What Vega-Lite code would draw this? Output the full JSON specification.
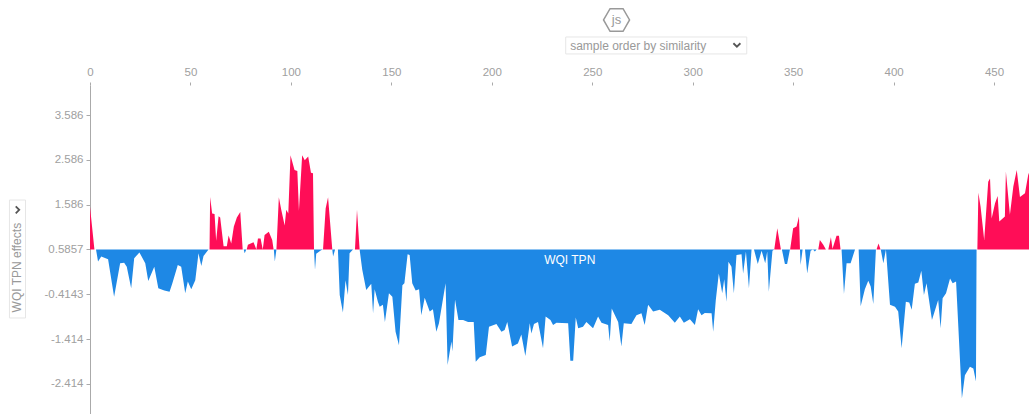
{"$schema":"https://vega.github.io/schema/vega-lite/v6.json","width":939,"height":329,"autosize":{"type":"none"},"padding":{"left":90,"top":85,"right":0,"bottom":0},"background":"white","config":{"view":{"stroke":null},"font":"Liberation Sans"},
"datasets":{
"positive":[{"s":0,"e":1.54},{"s":2.2,"e":0.5857},{"s":59.5,"e":0.5857},{"s":59.8,"e":1.76},{"s":60.8,"e":1.39},{"s":62,"e":1.38},{"s":62.8,"e":0.78},{"s":64,"e":1.33},{"s":64.8,"e":1.3},{"s":66.5,"e":0.66},{"s":68.1,"e":0.66},{"s":69,"e":0.9},{"s":70.3,"e":0.72},{"s":71.6,"e":1.1},{"s":73.1,"e":1.3},{"s":74.8,"e":1.42},{"s":76,"e":0.5857},{"s":78,"e":0.5857},{"s":78.6,"e":0.69},{"s":81.4,"e":0.75},{"s":82.8,"e":0.5857},{"s":83.6,"e":0.83},{"s":84.9,"e":0.83},{"s":86,"e":0.5857},{"s":86.9,"e":0.91},{"s":89,"e":0.98},{"s":90.7,"e":0.8},{"s":91.4,"e":0.5857},{"s":92.8,"e":0.5857},{"s":94,"e":1.75},{"s":95.2,"e":1.47},{"s":96.9,"e":1.12},{"s":97.7,"e":1.47},{"s":98.7,"e":1.39},{"s":99.8,"e":2.69},{"s":101.8,"e":2.36},{"s":103.2,"e":2.34},{"s":104,"e":1.45},{"s":105.6,"e":2.69},{"s":106.9,"e":2.58},{"s":108.6,"e":2.66},{"s":110,"e":2.3},{"s":111,"e":2.29},{"s":111.5,"e":0.5857},{"s":116,"e":0.5857},{"s":117.3,"e":1.5},{"s":118.5,"e":1.75},{"s":120.6,"e":0.5857},{"s":131.9,"e":0.5857},{"s":132.9,"e":1.47},{"s":134.2,"e":0.5857},{"s":340.6,"e":0.5857},{"s":342.1,"e":1.06},{"s":343.9,"e":0.5857},{"s":348.5,"e":0.5857},{"s":350,"e":1.06},{"s":351.7,"e":1.1},{"s":352.9,"e":1.32},{"s":353.4,"e":0.5857},{"s":362.5,"e":0.5857},{"s":363.3,"e":0.8},{"s":365,"e":0.69},{"s":366.3,"e":0.5857},{"s":367.5,"e":0.5857},{"s":368.8,"e":0.86},{"s":369.6,"e":0.6},{"s":371.6,"e":0.89},{"s":372.8,"e":0.89},{"s":373.6,"e":0.5857},{"s":391.5,"e":0.5857},{"s":392.5,"e":0.72},{"s":393.5,"e":0.5857},{"s":441.7,"e":0.5857},{"s":442.2,"e":1.85},{"s":443.3,"e":1.54},{"s":445.1,"e":0.8},{"s":447.1,"e":2.1},{"s":448,"e":2.17},{"s":448.8,"e":1.28},{"s":450.5,"e":1.62},{"s":451.8,"e":1.78},{"s":452.6,"e":1.21},{"s":454.3,"e":1.28},{"s":455.4,"e":1.32},{"s":455.9,"e":2.32},{"s":457.9,"e":1.36},{"s":459.6,"e":1.99},{"s":461.3,"e":2.36},{"s":462.9,"e":1.76},{"s":465.4,"e":1.84},{"s":467,"e":2.25},{"s":467.4,"e":2.3}],
"negative":[{"s":3,"e":0.5857},{"s":4,"e":0.315},{"s":5.6,"e":0.43},{"s":9,"e":0.37},{"s":12,"e":-0.47},{"s":15,"e":0.28},{"s":17,"e":0.29},{"s":18.3,"e":0.2},{"s":20.5,"e":-0.28},{"s":22,"e":0.39},{"s":24.6,"e":0.52},{"s":27.5,"e":0.28},{"s":29,"e":-0.12},{"s":32,"e":0.2},{"s":34,"e":-0.28},{"s":37,"e":-0.33},{"s":39.6,"e":-0.355},{"s":41,"e":-0.17},{"s":43.7,"e":0.24},{"s":45.4,"e":0.2},{"s":47.4,"e":-0.39},{"s":48.7,"e":-0.13},{"s":50.4,"e":-0.3},{"s":52.4,"e":-0.1},{"s":54,"e":0.5},{"s":55.4,"e":0.22},{"s":56.5,"e":0.44},{"s":59,"e":0.5857},{"s":76.5,"e":0.5857},{"s":77,"e":0.5},{"s":77.8,"e":0.5857},{"s":91.5,"e":0.5857},{"s":92,"e":0.315},{"s":92.8,"e":0.5857},{"s":111.5,"e":0.5857},{"s":112,"e":0.13},{"s":112.6,"e":0.49},{"s":115,"e":0.57},{"s":116,"e":0.5857},{"s":120.6,"e":0.5857},{"s":121,"e":0.43},{"s":122,"e":0.5857},{"s":123.4,"e":0.5857},{"s":124.3,"e":-0.43},{"s":125.9,"e":-0.82},{"s":127.2,"e":-0.1},{"s":128.4,"e":-0.43},{"s":129.2,"e":0.5},{"s":130.9,"e":0.5857},{"s":134.2,"e":0.5857},{"s":135.5,"e":0.14},{"s":137.5,"e":-0.32},{"s":140,"e":-0.18},{"s":140.9,"e":-0.84},{"s":141.7,"e":-0.3},{"s":143.3,"e":-0.58},{"s":144.2,"e":-0.69},{"s":145.8,"e":-0.65},{"s":146.8,"e":-1.03},{"s":148.8,"e":-0.39},{"s":150.5,"e":-0.47},{"s":152.1,"e":-1.25},{"s":153.8,"e":-1.55},{"s":155.5,"e":-0.21},{"s":156.5,"e":-0.17},{"s":158.1,"e":0.48},{"s":159.1,"e":0.46},{"s":160.4,"e":-0.17},{"s":162.1,"e":-0.33},{"s":163.8,"e":-0.3},{"s":164.9,"e":-0.88},{"s":166.6,"e":-0.49},{"s":169.1,"e":-0.8},{"s":170.7,"e":-0.75},{"s":172.4,"e":-1.25},{"s":173.7,"e":-1.06},{"s":177,"e":-0.17},{"s":178,"e":-1.99},{"s":179.9,"e":-1.47},{"s":180.4,"e":-1.69},{"s":181.7,"e":-0.53},{"s":183.4,"e":-0.99},{"s":185.7,"e":-0.99},{"s":188.2,"e":-1.03},{"s":191,"e":-1.03},{"s":192,"e":-1.92},{"s":194,"e":-1.82},{"s":197,"e":-1.77},{"s":198.6,"e":-1.14},{"s":202.3,"e":-1.08},{"s":204.8,"e":-1.25},{"s":206.4,"e":-1.21},{"s":207.7,"e":-1.03},{"s":210.1,"e":-1.58},{"s":213,"e":-1.51},{"s":214.7,"e":-1.31},{"s":216.7,"e":-1.79},{"s":218.9,"e":-1.06},{"s":219.7,"e":-1.29},{"s":221,"e":-1.08},{"s":223,"e":-1.03},{"s":225.5,"e":-1.62},{"s":226.8,"e":-0.91},{"s":229.2,"e":-0.99},{"s":230.5,"e":-1.1},{"s":232.2,"e":-1.05},{"s":238,"e":-1.06},{"s":239.1,"e":-1.9},{"s":240.5,"e":-1.9},{"s":241.8,"e":-0.93},{"s":243,"e":-1.17},{"s":245.4,"e":-1.14},{"s":247.1,"e":-1.03},{"s":250.4,"e":-1.17},{"s":252.9,"e":-0.91},{"s":254.6,"e":-1.05},{"s":257.9,"e":-1.1},{"s":258.7,"e":-1.47},{"s":259.7,"e":-0.73},{"s":262.9,"e":-1.03},{"s":264.5,"e":-1.58},{"s":265.7,"e":-1.06},{"s":269.5,"e":-1.08},{"s":272,"e":-0.88},{"s":274.5,"e":-0.84},{"s":276.1,"e":-1.1},{"s":277.8,"e":-0.65},{"s":280.3,"e":-0.8},{"s":283.6,"e":-0.76},{"s":287.8,"e":-0.88},{"s":291.1,"e":-1.05},{"s":293.6,"e":-0.91},{"s":295.6,"e":-1.05},{"s":298.6,"e":-0.97},{"s":301.1,"e":-1.1},{"s":302.7,"e":-0.75},{"s":304.4,"e":-0.88},{"s":306,"e":-0.83},{"s":309.4,"e":-0.84},{"s":310.2,"e":-1.25},{"s":311.5,"e":-0.54},{"s":313,"e":0.05},{"s":314.7,"e":-0.39},{"s":315.7,"e":-0.08},{"s":316.8,"e":-0.58},{"s":317.8,"e":0.31},{"s":319.3,"e":0.2},{"s":320.5,"e":-0.39},{"s":321.8,"e":0.46},{"s":324.3,"e":0.48},{"s":325.1,"e":0.05},{"s":326.5,"e":0.54},{"s":328,"e":-0.28},{"s":329.3,"e":0.5857},{"s":330.5,"e":0.5857},{"s":332.4,"e":0.26},{"s":334.3,"e":0.56},{"s":336.1,"e":0.28},{"s":337.1,"e":0.54},{"s":337.9,"e":-0.36},{"s":339.7,"e":0.56},{"s":340.6,"e":0.5857},{"s":344.4,"e":0.5857},{"s":345.9,"e":0.26},{"s":347,"e":0.26},{"s":348.4,"e":0.5857},{"s":353.4,"e":0.5857},{"s":353.7,"e":0.24},{"s":354.7,"e":0.5857},{"s":355.9,"e":0.5857},{"s":357,"e":0.05},{"s":358.7,"e":0.56},{"s":359.9,"e":0.5857},{"s":360.8,"e":0.54},{"s":361.7,"e":0.5857},{"s":374.1,"e":0.5857},{"s":375.3,"e":-0.41},{"s":376.6,"e":0.28},{"s":378.6,"e":0.28},{"s":380.8,"e":0.5857},{"s":382.6,"e":0.5857},{"s":383.6,"e":-0.68},{"s":385.7,"e":-0.3},{"s":387.4,"e":-0.11},{"s":388.6,"e":-0.24},{"s":389.9,"e":-0.63},{"s":391.2,"e":0.5857},{"s":393.6,"e":0.5857},{"s":394.9,"e":0.28},{"s":396.2,"e":0.5857},{"s":398.2,"e":-0.65},{"s":400.7,"e":-0.69},{"s":402.3,"e":-0.8},{"s":404,"e":-1.62},{"s":406.1,"e":-0.58},{"s":407.8,"e":-0.6},{"s":409,"e":-0.76},{"s":410.6,"e":-0.18},{"s":412.3,"e":-0.15},{"s":413.8,"e":0.11},{"s":415.1,"e":-0.43},{"s":416.4,"e":-0.17},{"s":419.1,"e":-0.99},{"s":422.2,"e":-0.54},{"s":423.4,"e":-1.17},{"s":424.4,"e":-0.5},{"s":426.1,"e":-0.39},{"s":428.1,"e":-0.06},{"s":429.4,"e":-0.17},{"s":431.1,"e":-0.13},{"s":434,"e":-2.74},{"s":435.5,"e":-2.22},{"s":438,"e":-2.03},{"s":439.7,"e":-2.07},{"s":441,"e":-2.36},{"s":441.3,"e":0.5857},{"s":467.4,"e":0.5857}],
"boxes":[{"s":-40.1,"s2":-32.1,"e":1.69,"e2":-0.943},{"s":236.8,"s2":326.9,"e":5.329,"e2":4.95}]
},
"encoding":{"x":{"field":"s","type":"quantitative","scale":{"domain":[0,467.4],"nice":false,"zero":false}},"y":{"field":"e","type":"quantitative","scale":{"domain":[-3.086,4.257],"nice":false,"zero":false}}},
"layer":[
{"data":{"name":"negative"},"mark":{"type":"area","color":"#1E88E5","interpolate":"linear","clip":false},"encoding":{
"x":{"field":"s","type":"quantitative","scale":{"domain":[0,467.4],"nice":false,"zero":false},"axis":{"orient":"top","values":[0,50,100,150,200,250,300,350,400,450],"title":null,"grid":false,"domain":false,"tickSize":3,"tickColor":"#aaa","labelColor":"#a0a0a0","labelFontSize":11.5,"labelPadding":5,"labelFlush":false,"labelOverlap":false}},
"y":{"field":"e","type":"quantitative","scale":{"domain":[-3.086,4.257],"nice":false,"zero":false},"axis":{"values":[3.586,2.586,1.586,0.5857,-0.4143,-1.414,-2.414],"labelExpr":"'' + datum.value","title":null,"grid":false,"domainColor":"#aaa","tickColor":"#aaa","tickSize":4,"labelColor":"#a0a0a0","labelFontSize":11.5,"labelPadding":3,"labelOverlap":false}},
"y2":{"datum":0.5857}}},
{"data":{"name":"positive"},"mark":{"type":"area","color":"#FF0D57","interpolate":"linear"},"encoding":{"y2":{"datum":0.5857}}},
{"data":{"values":[{"s":238.8,"e":0.35,"t":"WQI TPN"}]},"mark":{"type":"text","color":"white","fontSize":12,"align":"center","baseline":"middle"},"encoding":{"text":{"field":"t"}}},
{"data":{"name":"boxes"},"mark":{"type":"rect","fill":"white","stroke":"#e6e6e6","strokeWidth":1},"encoding":{"x2":{"field":"s2"},"y2":{"field":"e2"}}},
{"data":{"values":[{"s":-36.1,"e":0.18,"t":"WQI TPN effects"}]},"mark":{"type":"text","color":"#999","fontSize":12,"angle":270,"align":"center","baseline":"middle"},"encoding":{"text":{"field":"t"}}},
{"data":{"values":[{"s":239,"e":5.128,"t":"sample order by similarity"}]},"mark":{"type":"text","color":"#999","fontSize":12,"align":"left","baseline":"middle"},"encoding":{"text":{"field":"t"}}},
{"data":{"values":[{"s":262.1,"e":5.708,"t":"js"}]},"mark":{"type":"text","color":"#999","fontSize":13,"align":"center","baseline":"middle"},"encoding":{"text":{"field":"t"}}},
{"data":{"values":[{"s":262.1,"e":5.708}]},"mark":{"type":"point","shape":"M-1,0L-0.5,-0.87L0.5,-0.87L1,0L0.5,0.87L-0.5,0.87Z","filled":false,"stroke":"#999","strokeWidth":1.5,"size":676,"opacity":1}},
{"data":{"values":[{"s":322,"e":5.15}]},"mark":{"type":"point","shape":"M-0.7,-0.35L0,0.35L0.7,-0.35","filled":false,"stroke":"#555","strokeWidth":1.8,"size":100,"opacity":1}},
{"data":{"values":[{"s":-36.1,"e":1.47}]},"mark":{"type":"point","shape":"M-0.35,-0.7L0.35,0L-0.35,0.7","filled":false,"stroke":"#555","strokeWidth":1.8,"size":100,"opacity":1}}
]}
